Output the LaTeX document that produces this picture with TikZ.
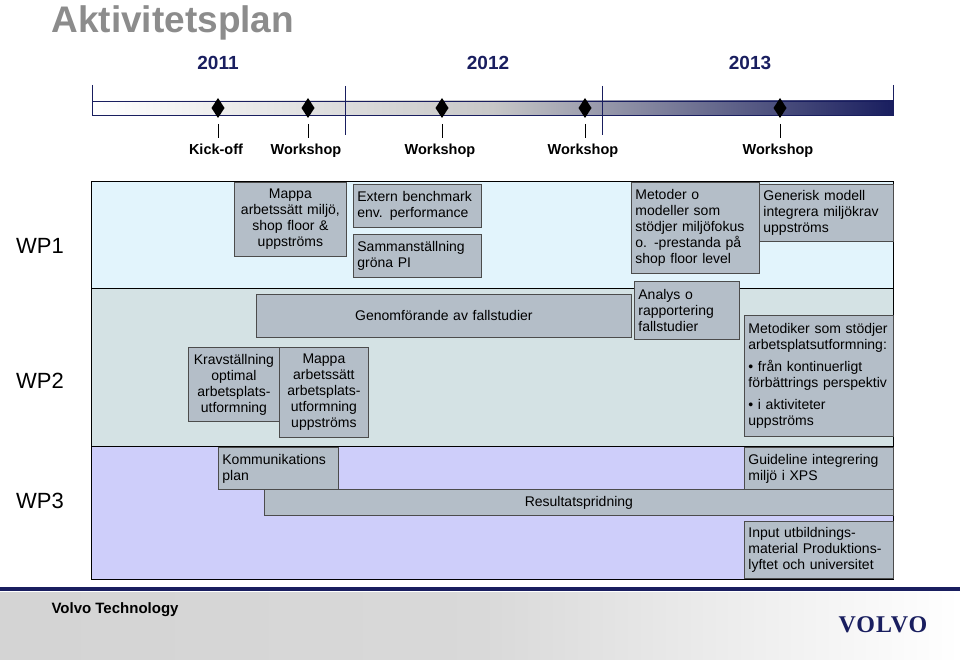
\documentclass[tikz,border=0pt]{standalone}
\usepackage{fontspec}
\setmainfont{Liberation Sans}
\newfontfamily\logofont[LetterSpace=4]{Liberation Serif}
\usepackage{tikz}
\usetikzlibrary{calc}

\definecolor{navy}{RGB}{25,30,95}
\definecolor{boxgray}{RGB}{180,190,200}
\definecolor{rowone}{RGB}{226,244,252}
\definecolor{rowtwo}{RGB}{212,226,228}
\definecolor{rowthree}{RGB}{206,206,250}

\tikzset{
  act/.style={draw=black!70, fill=boxgray, line width=0.8pt, inner sep=4pt,
    font=\fontsize{14}{16}\selectfont, anchor=north west},
  year/.style={font=\bfseries\fontsize{19}{21}\selectfont, text=navy},
  event/.style={font=\bfseries\fontsize{14.5}{16}\selectfont, anchor=base},
  wp/.style={font=\fontsize{22}{24}\selectfont}
}
% box: name, x1, y1, x2, y2, alignment, text
\newcommand{\actbox}[7]{%
  \node[act, minimum width={(#4-#2)*1pt}, minimum height={(#5-#3)*1pt},
    text width={(#4-#2-8)*1pt}, align=#6] (#1) at (#2,#3) {#7};}

\begin{document}
\begin{tikzpicture}[x=1pt,y=-1pt]
    \useasboundingbox (0,0) rectangle (960,660);

    % title and years
    \node[anchor=base west, text=black!45, font=\bfseries\fontsize{37}{40}\selectfont] (title) at (48,33) {Aktivitetsplan};
    \node[year] (y2011) at (218,63) {2011};
    \node[year] (y2012) at (488,63) {2012};
    \node[year] (y2013) at (750,63) {2013};

    % time line
    \shade[left color=white, right color=navy, middle color=black!22] (92,101) rectangle (893,115);
    \draw[navy] (92,101) rectangle (893,115);
    \foreach \x/\t/\b in {92/85/115, 345/86/135, 602/86/135, 893/85/115}
      \draw[navy] (\x,\t) -- (\x,\b);

    % milestones
    \foreach \x/\lab/\n in {218/Kick-off/ko, 308/Workshop/wa, 442/Workshop/wb, 585/Workshop/wc, 780/Workshop/wd}{
      \fill (\x,98) -- (\x+6.5,108) -- (\x,118) -- (\x-6.5,108) -- cycle;
      \draw (\x,124) -- (\x,138);
      \node[event] (\n) at (\x-2,155) {\lab};
    }

    % rows
    \fill[rowone] (91,181) rectangle (893,288);
    \fill[rowtwo] (91,288) rectangle (893,446);
    \fill[rowthree] (91,446) rectangle (893,579);
    \draw (91,288) -- (893,288);
    \draw (91,446) -- (893,446);
    \draw[line width=0.8pt] (91,181) rectangle (893,579);
    \node[wp] (wp1) at (40,246) {WP1};
    \node[wp] (wp2) at (40,381) {WP2};
    \node[wp] (wp3) at (40,501) {WP3};

    % WP1
    \actbox{mappa}{234}{182}{346}{256}{center}{Mappa\\arbetssätt miljö,\\shop floor \&\\uppströms}
    \actbox{extern}{353}{184}{481}{227}{left}{Extern benchmark\\env. performance}
    \actbox{samman}{353}{234}{481}{277}{left}{Sammanställning\\gröna PI}
    \actbox{metoder}{631}{182}{759}{273}{left}{Metoder o\\modeller som\\stödjer miljöfokus\\o. -prestanda på\\shop floor level}
    \actbox{generisk}{759}{184}{893}{241}{left}{Generisk modell\\integrera miljökrav\\uppströms}

    % WP2
    \actbox{genom}{256}{294}{631}{337}{center}{Genomförande av fallstudier\\[12pt]}
    \actbox{analys}{634}{281}{739}{339}{left}{Analys o\\rapportering\\fallstudier}
    \actbox{metodiker}{744}{315}{893}{436}{left}{Metodiker som stödjer\\arbetsplatsutformning:\\[6pt]• från kontinuerligt\\förbättrings perspektiv\\[6pt]• i aktiviteter\\uppströms}
    \actbox{krav}{188}{347}{279}{421}{center}{Kravställning\\optimal\\arbetsplats-\\utformning}
    \actbox{mappatwo}{279}{347}{368}{437}{center}{Mappa\\arbetssätt\\arbetsplats-\\utformning\\uppströms}

    % WP3
    \actbox{komm}{218}{447}{338}{489}{left}{Kommunikations\\plan}
    \actbox{guide}{744}{447}{893}{489}{left}{Guideline integrering\\miljö i XPS}
    \actbox{result}{264}{489}{893}{515}{center}{Resultatspridning}
    \actbox{input}{744}{521}{893}{578}{left}{Input utbildnings-\\material Produktions-\\lyftet och universitet}

    % footer
    \shade[left color=black!17, right color=white, middle color=black!15] (0,592) rectangle (960,660);
    \fill[navy] (0,587) rectangle (960,591);
    \node[anchor=west, font=\bfseries\fontsize{15}{17}\selectfont] (volvotech) at (48,610) {Volvo Technology};
    \node[text=navy, font=\logofont\bfseries\fontsize{24}{26}\selectfont] (logo) at (883,625) {VOLVO};

\end{tikzpicture}
\end{document}
